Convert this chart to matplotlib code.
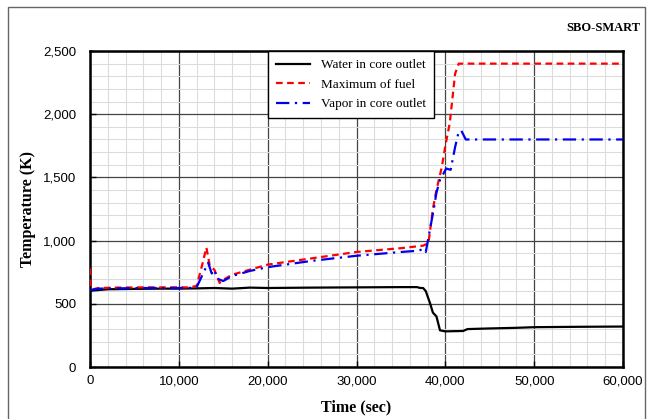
import matplotlib
matplotlib.use("Agg")
import matplotlib.pyplot as plt
from matplotlib.ticker import MultipleLocator, FuncFormatter
from matplotlib.patches import Rectangle

# Water in core outlet
t_water = [0, 300, 2000, 5000, 8000, 10000, 12000, 14000, 16000, 18000, 20000,
           25000, 30000, 35000, 36800, 37200, 37500, 37800, 38300, 38600, 39000,
           39400, 40000, 42000, 42500, 45000, 48000, 50000, 55000, 60000]
T_water = [600, 605, 615, 618, 620, 620, 622, 625, 620, 628, 625,
           628, 630, 632, 632, 625, 625, 600, 500, 430, 400,
           290, 282, 285, 300, 305, 310, 315, 318, 320]

# Maximum of fuel
t_fuel = [0, 80, 300, 1000, 3000, 6000, 9000, 11000, 12000, 12600, 13100, 13500,
          14000, 14200, 14600, 15000, 16000, 18000, 20000, 25000, 30000, 35000,
          37500, 38100, 38600, 39000, 39600, 40000, 40500, 41100, 41500, 42000, 60000]
T_fuel = [780, 620, 615, 625, 628, 630, 630, 630, 640, 800, 945, 795,
          770, 730, 665, 690, 730, 770, 810, 860, 910, 940,
          960, 980, 1250, 1400, 1580, 1750, 1930, 2320, 2400, 2400, 2400]

# Vapor in core outlet
t_vapor = [0, 300, 1000, 3000, 6000, 9000, 11000, 12000, 12600, 13300, 13700,
           14000, 14300, 15000, 16000, 18000, 20000, 25000, 30000, 35000, 37000,
           37500, 37800, 38300, 38700, 39000, 39400, 40100, 40600, 41100, 41500,
           41800, 42300, 60000]
T_vapor = [610, 612, 620, 622, 625, 625, 625, 630, 720, 825, 740,
           770, 700, 680, 720, 760, 790, 840, 880, 910, 920,
           935, 910, 1100, 1250, 1380, 1480, 1570, 1560, 1740, 1860,
           1870, 1800, 1800]

x_ticks = [0, 10000, 20000, 30000, 40000, 50000, 60000]
y_ticks = [0, 500, 1000, 1500, 2000, 2500]

serif = ["Liberation Serif", "DejaVu Serif"]
sans = ["Liberation Sans", "DejaVu Sans"]

fig = plt.figure(figsize=(6.5, 4.19), dpi=100)
ax = fig.add_axes([90/650, 1-367/419, (623-90)/650, (367-51)/419])

# figure border
fig.patches.append(Rectangle((8/650, -0.01), (645-8)/650, 1 - 7/419 + 0.01,
                             transform=fig.transFigure, fill=False,
                             edgecolor="#666666", linewidth=1.0))

ax.plot(t_water, T_water, color="black", lw=1.6, label="Water in core outlet", zorder=3)
ax.plot(t_fuel, T_fuel, color="#ff0000", lw=1.6, ls=(0, (3, 2)), label="Maximum of fuel", zorder=4)
ax.plot(t_vapor, T_vapor, color="#0000ee", lw=1.6, ls=(0, (6, 2.5, 1, 2.5)), label="Vapor in core outlet", zorder=4)

ax.set_xlim(0, 60000)
ax.set_ylim(0, 2500)
ax.set_xticks(x_ticks)
ax.set_yticks(y_ticks)
ax.xaxis.set_minor_locator(MultipleLocator(2000))
ax.yaxis.set_minor_locator(MultipleLocator(100))
fmt = FuncFormatter(lambda v, p: f"{int(v):,}")
ax.xaxis.set_major_formatter(fmt)
ax.yaxis.set_major_formatter(fmt)

ax.grid(which="minor", color="#dcdcdc", lw=0.8)
ax.grid(which="major", color="#444444", lw=0.9)
ax.set_axisbelow(True)

for s in ax.spines.values():
    s.set_linewidth(1.8)
    s.set_color("black")

ax.tick_params(which="major", direction="in", length=4, width=1, pad=6)
ax.tick_params(which="minor", length=0)
for lab in ax.get_xticklabels() + ax.get_yticklabels():
    lab.set_fontfamily(sans)
    lab.set_fontsize(9.5)
ax.tick_params(axis="y", pad=10)

ax.set_xlabel("Time (sec)", fontfamily=serif, fontsize=11.5, fontweight="bold", labelpad=9)
ax.set_ylabel("Temperature (K)", fontfamily=serif, fontsize=11.5, fontweight="bold", labelpad=5)

fig.text(640/650, 1-28/419, "SBO-SMART", ha="right", va="center",
         fontfamily=serif, fontsize=9, fontweight="bold")

leg = ax.legend(loc="upper left", bbox_to_anchor=((268-90)/533, 1.0),
                prop={"family": serif, "size": 9.5}, frameon=True, fancybox=False,
                framealpha=1, edgecolor="black", borderaxespad=0,
                handlelength=2.6, labelspacing=0.55, borderpad=0.6)
leg.get_frame().set_linewidth(1.0)

fig.savefig("out.png", dpi=100)
